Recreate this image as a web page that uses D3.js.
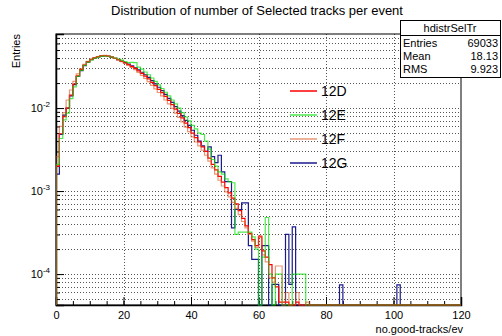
<!DOCTYPE html>
<html>
<head>
<meta charset="utf-8">
<script src="https://cdn.jsdelivr.net/npm/d3@7"></script>
<style>
  body { margin: 0; background: #fff; }
  text { font-family: "Liberation Sans", Arial, sans-serif; }
</style>
</head>
<body>
<script>
// bin contents (bin width 1, starting at 0)
var bins12D = [0.0020,0.0049,0.0079,0.0100,0.0143,0.0195,0.0245,0.0290,0.0330,0.0362,
  0.0385,0.0403,0.0416,0.0425,0.0428,0.0422,0.0412,0.0398,0.0382,0.0366,
  0.0350,0.0333,0.0316,0.0300,0.0280,0.0262,0.0243,0.0225,0.0204,0.0186,
  0.0168,0.0153,0.0138,0.0124,0.0110,0.0097,0.0086,0.0076,0.0066,0.0058,
  0.0050,0.0044,0.0039,0.0034,0.0030,0.0025,0.0021,0.0018,0.00150,0.00128,
  0.00110,0.00095,0.00082,0.00070,0.00058,0.00047,0.00038,0.00031,0.00026,0.00022,
  0.00028,0.00019,0.00016,0.00013,0.00009,0.00007,0.000046,0.000046,0.000046,0,
  0,0.000046];
var bins12E = [0.0021,0.0043,0.0072,0.0087,0.0130,0.0180,0.0240,0.0285,0.0326,0.0358,
  0.0380,0.0397,0.0410,0.0420,0.0424,0.0420,0.0410,0.0400,0.0388,0.0378,
  0.0364,0.0352,0.0356,0.0352,0.0312,0.0294,0.0272,0.0252,0.0230,0.0210,
  0.0190,0.0172,0.0155,0.0140,0.0125,0.0112,0.0100,0.0088,0.0078,0.0070,
  0.0062,0.0056,0.0050,0.0048,0.0040,0.0032,0.0024,0.0020,0.0017,0.0016,
  0.0014,0.0013,0.00126,0.00030,0.00032,0.00032,0.00032,0.00032,0.00028,0.00020,
  0,0.00016,0.00048,0.00010,0,0.00010,0.00010,0,0,0,
  0.00010,0.00010,0.00010,0.00010];
var bins12F = [0.0026,0.0060,0.0088,0.0125,0.0165,0.0210,0.0258,0.0298,0.0336,0.0366,
  0.0388,0.0405,0.0418,0.0428,0.0432,0.0424,0.0412,0.0396,0.0380,0.0362,
  0.0345,0.0326,0.0308,0.0290,0.0268,0.0248,0.0228,0.0208,0.0188,0.0170,
  0.0154,0.0140,0.0125,0.0112,0.0099,0.0087,0.0077,0.0068,0.0059,0.0052,
  0.0045,0.0039,0.0035,0.0031,0.0027,0.0023,0.0019,0.0016,0.00135,0.00115,
  0.00098,0.00085,0.00073,0.00062,0.00052,0.00043,0.00036,0.00030,0.00025,0.00021,
  0.00029,0.00017,0.00014,0.00009,0.00008,0.000125,0.000125,0,0.00006,0,
  0,0.00006,0,0,0.000046];
var bins12G = [0.0016,0.0048,0.0082,0.0100,0.0140,0.0192,0.0240,0.0282,0.0325,0.0358,
  0.0382,0.0400,0.0414,0.0422,0.0426,0.0420,0.0410,0.0398,0.0384,0.0369,
  0.0354,0.0338,0.0322,0.0305,0.0288,0.0270,0.0252,0.0234,0.0214,0.0196,
  0.0178,0.0162,0.0146,0.0131,0.0117,0.0104,0.0092,0.0081,0.0071,0.0062,
  0.0054,0.0047,0.0040,0.0035,0.0030,0.0034,0.0026,0.0022,0.0027,0.0017,
  0.0013,0.0013,0.00036,0.00060,0.00060,0.00072,0.00072,0.00022,0.00015,0.00015,
  0,0.00022,0.00022,0,0.000075,0.000075,0,0,0.00030,0.000075,
  0.00037];
// isolated single-entry bins of 12G far in the tail
var extra12G = [[84, 0.000074], [101, 0.000074]];

var seriesNames = ["12D", "12E", "12F", "12G"];
var xTicks = [0, 20, 40, 60, 80, 100, 120];
var yDecades = [1e-4, 1e-3, 1e-2];
var statRows = [["Entries", "69033"], ["Mean", "18.13"], ["RMS", "9.923"]];

// set the dimensions and margins of the graph
var margin = {top: 34, right: 41, bottom: 31, left: 56},
    width = 502 - margin.left - margin.right,
    height = 336 - margin.top - margin.bottom;

var x = d3.scaleLinear().domain([0, 120]).range([0, width]);
var y = d3.scaleLog().domain([4.24e-5, 0.078]).range([height, 0]);

var svgRoot = d3.select("body").append("svg")
    .attr("width", 502)
    .attr("height", 336);

svgRoot.append("rect").attr("width", 502).attr("height", 336).attr("fill", "#fff");

var svg = svgRoot.append("g")
    .attr("transform", "translate(" + margin.left + "," + margin.top + ")");

// title
svgRoot.append("text")
    .attr("x", 257).attr("y", 15)
    .attr("text-anchor", "middle")
    .attr("font-size", "13px")
    .text("Distribution of number of Selected tracks per event");

// grid lines
var yGrid = [];
yDecades.concat([1e-5]).forEach(function(d) {
  for (var k = 1; k <= 9; k++) {
    var v = d * k;
    if (v > y.domain()[0] && v < y.domain()[1]) yGrid.push(v);
  }
});

svg.append("g").selectAll("line")
    .data(yGrid)
  .enter().append("line")
    .attr("x1", 0).attr("x2", width)
    .attr("y1", function(d) { return Math.round(y(d)) + 0.5; })
    .attr("y2", function(d) { return Math.round(y(d)) + 0.5; })
    .attr("stroke", "#555")
    .attr("stroke-dasharray", "1,2");

svg.append("g").selectAll("line")
    .data(xTicks.slice(1, -1))
  .enter().append("line")
    .attr("y1", 0).attr("y2", height)
    .attr("x1", function(d) { return Math.round(x(d)) + 0.5; })
    .attr("x2", function(d) { return Math.round(x(d)) + 0.5; })
    .attr("stroke", "#555")
    .attr("stroke-dasharray", "1,2");

// frame
svg.append("rect")
    .attr("x", 0).attr("y", 0)
    .attr("width", width).attr("height", height)
    .attr("fill", "none")
    .attr("stroke", "#000");

// x axis: ticks point inwards
var xAxis = d3.axisBottom(x).tickValues(xTicks).tickSize(-8).tickPadding(6)
    .tickFormat(d3.format("d"));
var gx = svg.append("g")
    .attr("transform", "translate(0," + height + ")")
    .call(xAxis);
gx.select(".domain").attr("stroke-width", 1.5);
gx.selectAll("text").attr("font-size", "11px").attr("font-family", "Liberation Sans, Arial, sans-serif");

svg.append("g")
    .attr("transform", "translate(0," + height + ")")
    .call(d3.axisBottom(x).ticks(24).tickSize(-4).tickFormat(""))
    .select(".domain").remove();

// y axis (log) with minor ticks
var gy = svg.append("g")
    .call(d3.axisLeft(y).tickValues(yDecades).tickSize(-8).tickFormat(""));
gy.select(".domain").attr("stroke-width", 1.5);
svg.append("g")
    .call(d3.axisLeft(y).tickValues(yGrid).tickSize(-4).tickFormat(""))
    .select(".domain").remove();

// decade labels 10^n
yDecades.forEach(function(d) {
  var t = svg.append("text")
      .attr("x", -6).attr("y", y(d) + 4)
      .attr("text-anchor", "end")
      .attr("font-size", "11px");
  t.append("tspan").text("10");
  t.append("tspan").attr("dy", -5).attr("font-size", "8px").text(String(Math.round(Math.log10(d))));
});

// axis titles
svgRoot.append("text")
    .attr("transform", "translate(20," + margin.top + ") rotate(-90)")
    .attr("text-anchor", "end")
    .attr("font-size", "11px")
    .text("Entries");

svgRoot.append("text")
    .attr("x", margin.left + width + 2).attr("y", 333)
    .attr("text-anchor", "end")
    .attr("font-size", "11px")
    .text("no.good-tracks/ev");

// histograms as step outlines
function fullBins(vals, extra) {
  var out = d3.range(120).map(function(i) { return i < vals.length ? vals[i] : 0; });
  (extra || []).forEach(function(e) { out[e[0]] = e[1]; });
  return out;
}

function stepPath(vals) {
  var p = "M" + x(0) + "," + height;
  vals.forEach(function(v, i) {
    var yy = v > 0 ? y(v) : height;
    p += "L" + x(i) + "," + yy + "L" + x(i + 1) + "," + yy;
  });
  return p + "L" + x(120) + "," + height;
}

svg.append("clipPath").attr("id", "frameclip")
  .append("rect").attr("x", 0).attr("y", 0).attr("width", width).attr("height", height + 1);

var hists = [
  {name: "12G", vals: fullBins(bins12G, extra12G), color: "#1a1a8c", opacity: 1},
  {name: "12D", vals: fullBins(bins12D), color: "#ff0000", opacity: 1},
  {name: "12E", vals: fullBins(bins12E), color: "#00e000", opacity: 0.7},
  {name: "12F", vals: fullBins(bins12F), color: "#d9541a", opacity: 0.6}
];

svg.append("g").attr("clip-path", "url(#frameclip)")
  .selectAll("path")
    .data(hists)
  .enter().append("path")
    .attr("d", function(d) { return stepPath(d.vals); })
    .attr("fill", "none")
    .attr("stroke", function(d) { return d.color; })
    .attr("stroke-opacity", function(d) { return d.opacity; })
    .attr("stroke-width", 1.2);

// legend
var legend = svgRoot.append("g");
seriesNames.forEach(function(name, i) {
  var h = hists.filter(function(d) { return d.name === name; })[0];
  var ly = 91 + i * 24;
  legend.append("line")
      .attr("x1", 290).attr("x2", 317)
      .attr("y1", ly).attr("y2", ly)
      .attr("stroke", h.color)
      .attr("stroke-opacity", h.opacity)
      .attr("stroke-width", 1.5);
  legend.append("text")
      .attr("x", 321).attr("y", ly + 5)
      .attr("font-size", "14px")
      .text(name);
});

// statistics box
var stat = svgRoot.append("g");
stat.append("rect")
    .attr("x", 400.5).attr("y", 20.5)
    .attr("width", 100).attr("height", 57)
    .attr("fill", "#fff").attr("stroke", "#000");
stat.append("text")
    .attr("x", 450).attr("y", 32)
    .attr("text-anchor", "middle")
    .attr("font-size", "11px")
    .text("hdistrSelTr");
stat.append("line")
    .attr("x1", 400.5).attr("x2", 500.5)
    .attr("y1", 35.5).attr("y2", 35.5)
    .attr("stroke", "#000");
statRows.forEach(function(r, i) {
  stat.append("text")
      .attr("x", 403).attr("y", 47 + i * 13)
      .attr("font-size", "11px")
      .text(r[0]);
  stat.append("text")
      .attr("x", 498).attr("y", 47 + i * 13)
      .attr("text-anchor", "end")
      .attr("font-size", "11px")
      .text(r[1]);
});
</script>
</body>
</html>
